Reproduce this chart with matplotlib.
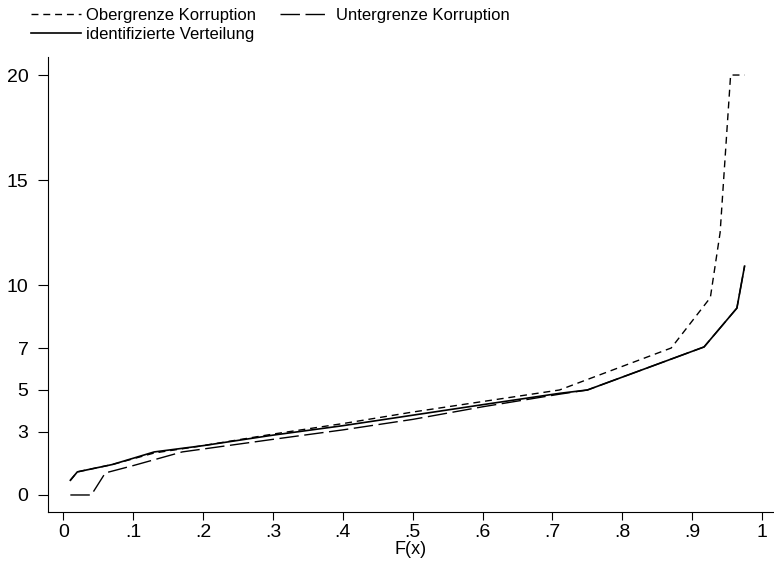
import matplotlib
matplotlib.use("Agg")
import matplotlib.pyplot as plt

# quantile curves
x_upper = [0.01, 0.02, 0.07, 0.13, 0.2, 0.3, 0.4, 0.5, 0.6, 0.71, 0.87, 0.926, 0.94, 0.955, 0.975]
y_upper = [0.7, 1.1, 1.45, 2.0, 2.35, 2.9, 3.4, 3.95, 4.45, 5.0, 7.0, 9.4, 12.5, 20.0, 20.0]

x_ident = [0.01, 0.02, 0.07, 0.13, 0.2, 0.3, 0.4, 0.5, 0.6, 0.71, 0.75, 0.917, 0.964, 0.975]
y_ident = [0.7, 1.1, 1.45, 2.05, 2.35, 2.85, 3.3, 3.8, 4.3, 4.84, 5.0, 7.05, 8.9, 10.9]

x_lower = [0.01, 0.04, 0.06, 0.1, 0.17, 0.3, 0.4, 0.5, 0.6, 0.71, 0.75, 0.917, 0.964, 0.975]
y_lower = [0.0, 0.0, 1.05, 1.4, 2.05, 2.65, 3.1, 3.6, 4.2, 4.8, 5.0, 7.05, 8.9, 10.9]

x_ticks = [0, .1, .2, .3, .4, .5, .6, .7, .8, .9, 1]
x_labels = ["0", ".1", ".2", ".3", ".4", ".5", ".6", ".7", ".8", ".9", "1"]
y_ticks = [0, 3, 5, 7, 10, 15, 20]

plt.rcParams["font.family"] = ["Liberation Sans", "DejaVu Sans"]

fig = plt.figure(figsize=(7.74, 5.63), dpi=100)
ax = fig.add_axes([0.062, 0.0906, 0.937, 0.8082])

l1, = ax.plot(x_upper, y_upper, color="black", lw=1.0, dashes=(5, 3.5))
l2, = ax.plot(x_lower, y_lower, color="black", lw=1.0, dashes=(14, 4))
l3, = ax.plot(x_ident, y_ident, color="black", lw=1.2)

ax.set_xlim(-0.022, 1.016)
ax.set_ylim(-0.81, 20.86)
ax.set_xticks(x_ticks)
ax.set_xticklabels(x_labels)
ax.set_yticks(y_ticks)
ax.tick_params(axis="y", length=7, pad=7, labelsize=14)
ax.tick_params(axis="x", length=6, pad=3, labelsize=14)
for s in ["top", "right"]:
    ax.spines[s].set_visible(False)
ax.set_xlabel("F(x)", fontsize=13, labelpad=0)

# order so that column 1 holds Ober + identifiziert, column 2 Unter
fig.legend([l1, l3, l2],
           ["Obergrenze Korruption", "identifizierte Verteilung", "Untergrenze Korruption"],
           loc="upper left", bbox_to_anchor=(0.031, 0.998), ncol=2, frameon=False,
           handlelength=3.0, handletextpad=0.35, columnspacing=1.4, labelspacing=0.25,
           borderaxespad=0, prop={"size": 12})

fig.savefig("out.png", dpi=100)
